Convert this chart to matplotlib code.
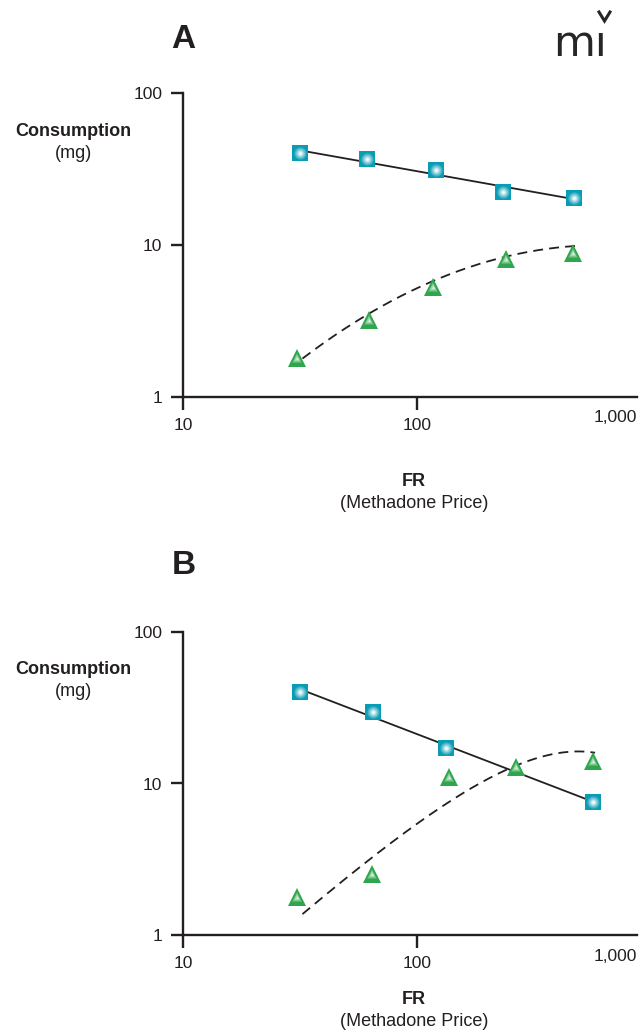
import numpy as np
import matplotlib
matplotlib.use("Agg")
import matplotlib.pyplot as plt
from matplotlib.colors import to_rgb
from matplotlib.lines import Line2D
from matplotlib.ticker import FixedLocator, NullLocator

plt.rcParams['font.family'] = ['Liberation Sans', 'DejaVu Sans']

# ---------------- data ----------------
# Panel A
a_sq_x = [31.5, 61, 120, 233, 465]
a_sq_y = [39.9, 36.5, 30.9, 22.1, 20.4]
a_tri_x = [30.5, 62, 117, 239, 464]
a_tri_y = [1.79, 3.20, 5.24, 8.05, 8.78]
# dashed curve A: quadratic in log-log, log10 y = c0 + c1*L + c2*L^2
a_curve = [-2.5618, 2.5567, -0.4592]
a_curve_range = [32.3, 492]

# Panel B
b_sq_x = [31.5, 64.9, 132, 565]
b_sq_y = [40.2, 29.7, 17.1, 7.59]
b_tri_x = [30.5, 64.3, 136, 265, 564]
b_tri_y = [1.78, 2.52, 11.1, 12.9, 14.1]
# dashed curve B: log10 y = A + b*log10 x - k*x
b_curve = [-1.9116, 1.3855, 0.0012336]
b_curve_range = [32.3, 575]

x_ticks = [10, 100]
x_tick_labels = ["10", "100"]
x_end_label = "1,000"
y_ticks = [1, 10, 100]
y_tick_labels = ["1", "10", "100"]
panel_letters = ["A", "B"]

TEAL = "#0a9cb5"
GREEN = "#2fa64c"
INK = "#231f20"

W, H = 641, 1034
fig = plt.figure(figsize=(W / 100, H / 100), dpi=100)


def glow(ax, xs, ys, marker, base, ms, zorder, steps):
    ax.plot(xs, ys, ls='none', marker=marker, ms=ms, mfc=base, mec=base,
            mew=0, zorder=zorder)
    base_rgb = np.array(to_rgb(base))
    white = np.array([1.0, 1.0, 1.0])
    for frac, mix in steps:
        col = tuple(base_rgb * (1 - mix) + white * mix)
        mk = marker if marker == '^' else 'o'
        ax.plot(xs, ys, ls='none', marker=mk, ms=ms * frac, mfc=col, mec=col,
                mew=0, zorder=zorder + 0.1)


SQ_STEPS = [(0.80, 0.22), (0.62, 0.42), (0.45, 0.62), (0.30, 0.82), (0.16, 0.96)]
TRI_STEPS = [(0.62, 0.18), (0.46, 0.36), (0.32, 0.56), (0.18, 0.80)]


def panel(ax, sq_x, sq_y, tri_x, tri_y, curve_y):
    ax.set_xscale('log')
    ax.set_yscale('log')
    ax.set_xlim(10, 866)
    ax.set_ylim(1, 100)
    for s in ['top', 'right']:
        ax.spines[s].set_visible(False)
    for s in ['left', 'bottom']:
        ax.spines[s].set_linewidth(1.7)
        ax.spines[s].set_color(INK)
    ax.xaxis.set_major_locator(FixedLocator(x_ticks))
    ax.xaxis.set_minor_locator(NullLocator())
    ax.set_xticklabels(x_tick_labels)
    ax.yaxis.set_major_locator(FixedLocator(y_ticks))
    ax.yaxis.set_minor_locator(NullLocator())
    ax.set_yticklabels(y_tick_labels)
    ax.tick_params(axis='both', direction='out', length=9, width=1.7,
                   color=INK, labelsize=12.5, labelcolor=INK, pad=6)
    ax.text(1.0, -0.045, x_end_label, transform=ax.transAxes, ha='right',
            va='top', fontsize=12.5, color=INK)

    # solid power-law fit through squares
    lx, ly = np.log10(sq_x), np.log10(sq_y)
    slope, icpt = np.polyfit(lx, ly, 1)
    fx = np.logspace(lx[0], lx[-1], 50)
    ax.plot(fx, 10 ** (icpt + slope * np.log10(fx)), color=INK, lw=1.3,
            zorder=2, solid_capstyle='butt')

    # dashed curve
    cx, cy = curve_y
    ax.plot(cx, cy, color=INK, lw=1.3, ls=(0, (5.5, 3.4)), zorder=2)

    glow(ax, sq_x, sq_y, 's', TEAL, 11, 5, SQ_STEPS)
    glow(ax, tri_x, tri_y, '^', GREEN, 12.5, 6, TRI_STEPS)


cxa = np.logspace(np.log10(a_curve_range[0]), np.log10(a_curve_range[1]), 200)
La = np.log10(cxa)
cya = 10 ** (a_curve[0] + a_curve[1] * La + a_curve[2] * La ** 2)

cxb = np.logspace(np.log10(b_curve_range[0]), np.log10(b_curve_range[1]), 200)
cyb = 10 ** (b_curve[0] + b_curve[1] * np.log10(cxb) - b_curve[2] * cxb)

axA = fig.add_axes([183.3 / W, 1 - 396.7 / H, 453.4 / W, 304 / H])
panel(axA, a_sq_x, a_sq_y, a_tri_x, a_tri_y, (cxa, cya))
axB = fig.add_axes([183.3 / W, 1 - 935.3 / H, 453.4 / W, 303.6 / H])
panel(axB, b_sq_x, b_sq_y, b_tri_x, b_tri_y, (cxb, cyb))

# panel letters
fig.text(183.5 / W, 1 - 40 / H, panel_letters[0], ha='center', va='center',
         fontsize=24, fontweight='bold', color=INK)
fig.text(183.5 / W, 1 - 565 / H, panel_letters[1], ha='center', va='center',
         fontsize=24, fontweight='bold', color=INK)

# axis titles
for ytop, yl in [(131, 153), (670, 692)]:
    fig.text(73 / W, 1 - ytop / H, "Consumption", ha='center', va='center',
             fontsize=13, fontweight='bold', color=INK)
    fig.text(73 / W, 1 - yl / H, "(mg)", ha='center', va='center',
             fontsize=13, color=INK)
for yfr, ym in [(481, 503), (1000, 1022)]:
    fig.text(414 / W, 1 - yfr / H, "FR", ha='center', va='center',
             fontsize=13, fontweight='bold', color=INK)
    fig.text(414 / W, 1 - ym / H, "(Methadone Price)", ha='center', va='center',
             fontsize=13, color=INK)

# logo: "mı" with a small check mark above the i
fig.text(580 / W, 1 - 44 / H, "m\u0131", ha='center', va='center', fontsize=31,
         color="#262626", family='DejaVu Sans')
fig.add_artist(Line2D([599 / W, 604.5 / W, 610 / W],
                      [1 - 12 / H, 1 - 21 / H, 1 - 12 / H],
                      transform=fig.transFigure, color="#262626", lw=2.2,
                      solid_joinstyle='miter'))

fig.savefig("out.png", dpi=100)
